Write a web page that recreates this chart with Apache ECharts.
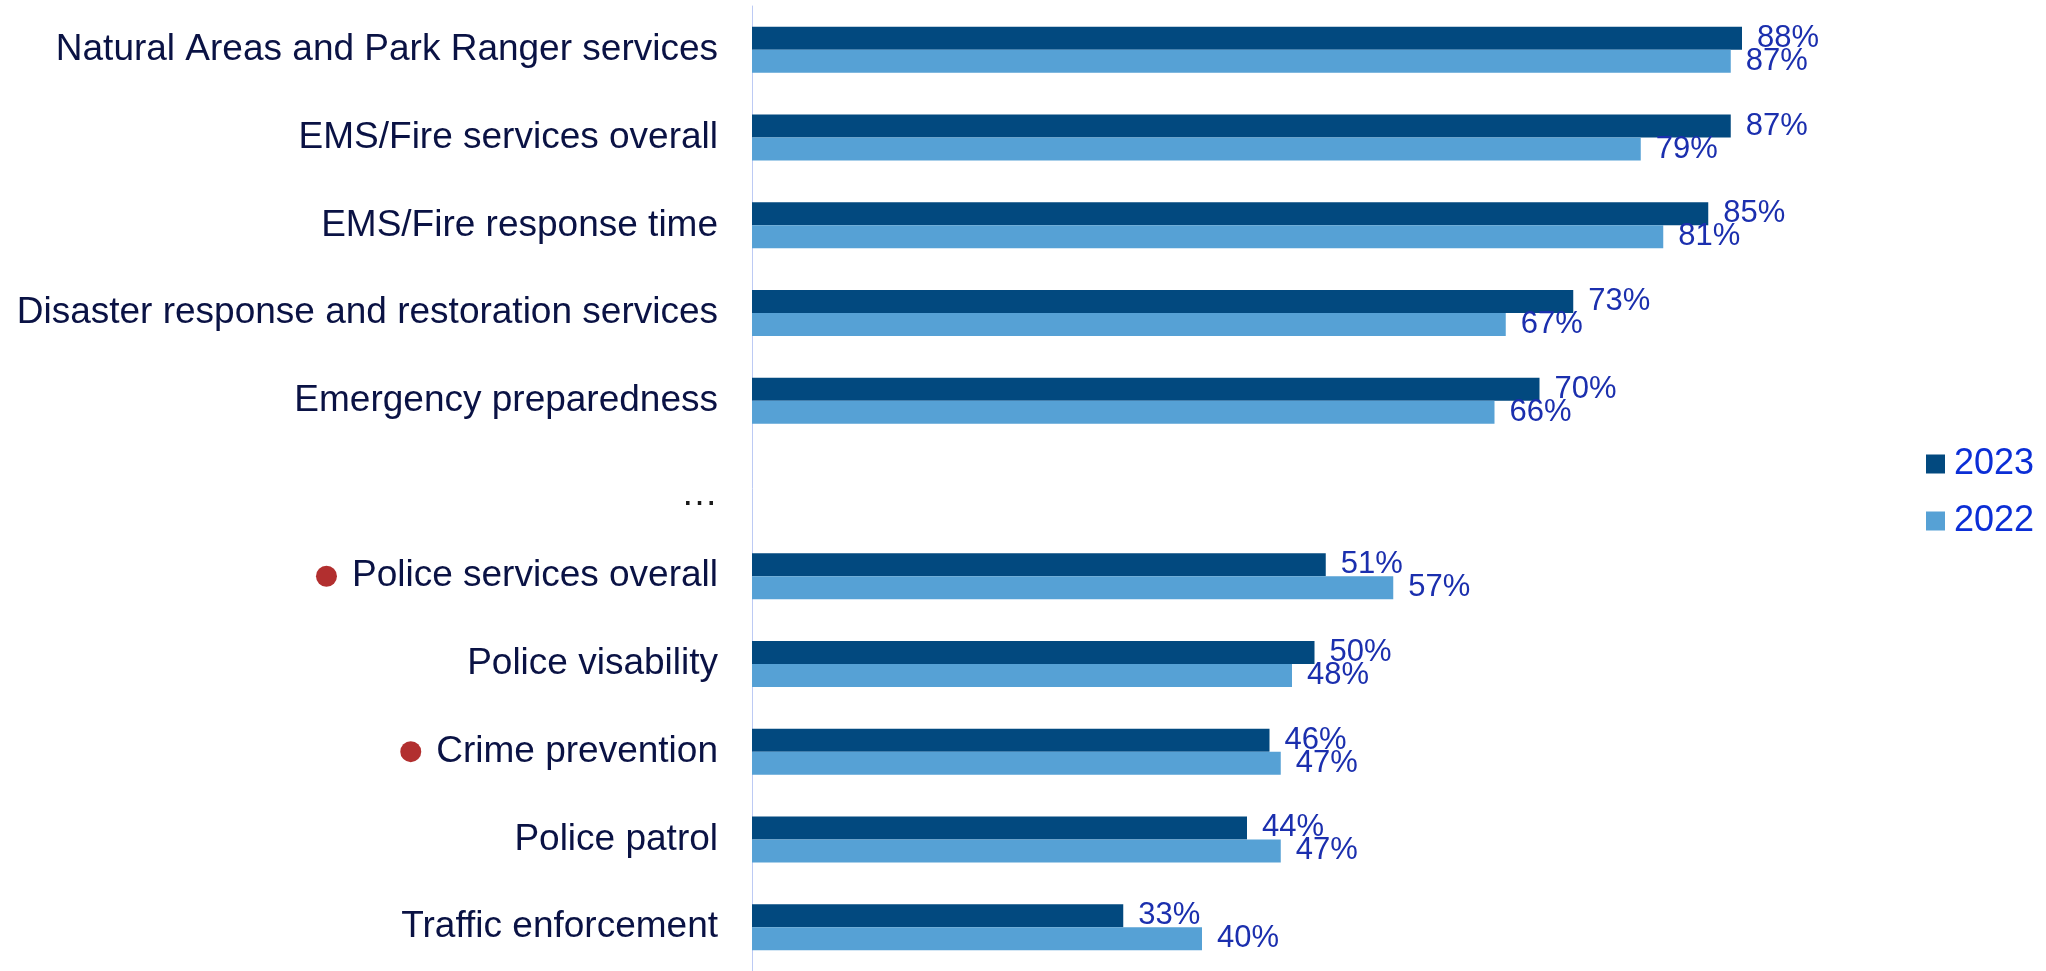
<!DOCTYPE html>
<html>
<head>
<meta charset="utf-8">
<script src="https://cdn.jsdelivr.net/npm/echarts@6/dist/echarts.min.js"></script>
<style>
  html, body { margin: 0; padding: 0; background: #ffffff; }
  #chart { width: 2046px; height: 971px; }
</style>
</head>
<body>
<div id="chart"></div>
<script>
// Service ratings, top to bottom; the "…" row is an intentional gap.
const categories = [
  'Natural Areas and Park Ranger services',
  'EMS/Fire services overall',
  'EMS/Fire response time',
  'Disaster response and restoration services',
  'Emergency preparedness',
  '…',
  'Police services overall',
  'Police visability',
  'Crime prevention',
  'Police patrol',
  'Traffic enforcement'
];
const values2023 = [88, 87, 85, 73, 70, null, 51, 50, 46, 44, 33];
const values2022 = [87, 79, 81, 67, 66, null, 57, 48, 47, 47, 40];
// Rows flagged with a red marker
const flagged = ['Police services overall', 'Crime prevention'];

const FONT = '"Liberation Sans", Arial, Helvetica, sans-serif';
const chart = echarts.init(document.getElementById('chart'));

const valueLabel = {
  show: true,
  position: 'right',
  distance: 15,
  formatter: p => p.value == null ? '' : p.value + '%',
  color: '#1b2fae',
  fontFamily: FONT,
  fontSize: 31
};

chart.setOption({
  animation: false,
  backgroundColor: '#ffffff',
  grid: { left: 752, top: 6, width: 1125, height: 970, containLabel: false },
  legend: {
    orient: 'vertical',
    left: 1921,
    top: 441,
    itemWidth: 19,
    itemHeight: 19,
    itemGap: 21,
    icon: 'rect',
    data: ['2023', '2022'],
    textStyle: {
      color: '#0b2ed6',
      fontFamily: FONT,
      fontSize: 36,
      lineHeight: 36,
      padding: [0, 0, 0, 4]
    }
  },
  xAxis: {
    type: 'value',
    min: 0,
    max: 100,
    show: false
  },
  yAxis: {
    type: 'category',
    inverse: true,
    data: categories,
    axisLine: { show: true, lineStyle: { color: '#bccaf4', width: 1 } },
    axisTick: { show: false },
    splitLine: { show: false },
    axisLabel: {
      margin: 34,
      color: '#0a1244',
      fontFamily: FONT,
      fontSize: 37,
      formatter: v => {
        if (v === '…') return '{ell|…}';
        if (flagged.includes(v)) return '{dot|}{gap| }' + v;
        return v;
      },
      rich: {
        dot: {
          width: 21, height: 21, borderRadius: 10.5,
          backgroundColor: '#b22f2f', verticalAlign: 'middle'
        },
        gap: { width: 15, fontSize: 37 },
        ell: { color: '#1a1a1a', fontFamily: FONT, fontSize: 37, padding: [12, 0, 0, 0] }
      }
    }
  },
  series: [
    {
      name: '2023',
      type: 'bar',
      data: values2023,
      barWidth: 23,
      barGap: '0%',
      itemStyle: { color: '#02497f' },
      label: valueLabel
    },
    {
      name: '2022',
      type: 'bar',
      data: values2022,
      barWidth: 23,
      barGap: '0%',
      itemStyle: { color: '#56a1d5' },
      label: valueLabel
    }
  ]
});
</script>
</body>
</html>
